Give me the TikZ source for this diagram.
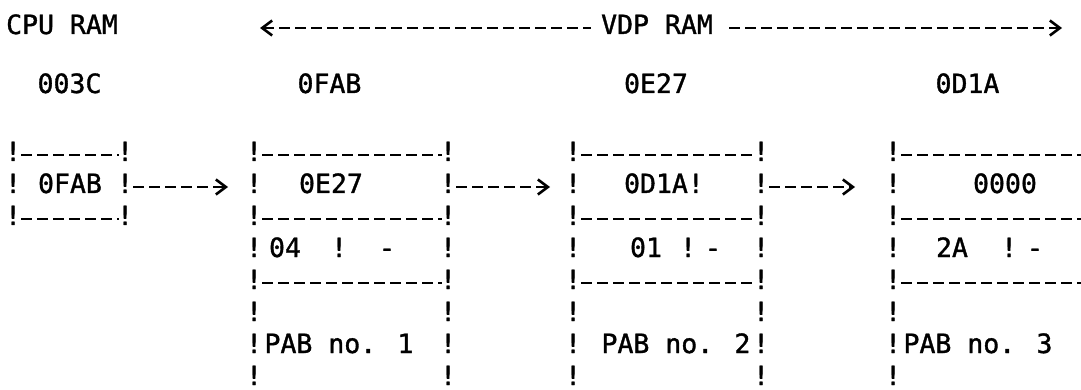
\documentclass[tikz,border=0pt]{standalone}
\usepackage{fontspec}
\newfontfamily\typefont[FakeBold=1.3]{DejaVu Sans Mono}
\usetikzlibrary{arrows.meta}
\tikzset{
  txt/.style={font=\typefont\fontsize{26.5}{26.5}\selectfont, inner sep=0pt, anchor=base},
  dashline/.style={line width=2.8pt, dash pattern=on 11pt off 5pt},
  barb/.tip={Straight Barb[length=10pt,width=15pt,line width=2.6pt]}
}
\begin{document}
\begin{tikzpicture}[x=1pt,y=-1pt]
\useasboundingbox (0,0) rectangle (1081,390);
% header
\node[txt] (cpu) at (62,34) {CPU RAM};
\node[txt] (vdp) at (657,34) {VDP RAM};
\coordinate (vl) at (260,28);
\coordinate (vr) at (1062,28);
\draw[dashline,barb-] (vl) -- ([xshift=-10pt,yshift=6pt]vdp.base west);
\draw[dashline,-barb] ([xshift=16pt,yshift=6pt]vdp.base east) -- (vr);
\node[txt] (h1) at (69.5,93) {003C};
\node[txt] (h2) at (329.5,93) {0FAB};
\node[txt] (h3) at (656,93) {0E27};
\node[txt] (h4) at (967.5,93) {0D1A};
% box 1 (CPU RAM)
\foreach \y [count=\i] in {161,193,225}{
  \node[txt] (b1l\i) at (13,\y) {!};
  \node[txt] (b1r\i) at (125,\y) {!};
}
\foreach \i in {1,3}{
  \draw[dashline] ([xshift=8pt,yshift=6pt]b1l\i.base) -- ([xshift=-6pt,yshift=6pt]b1r\i.base);
}
\node[txt] (p0) at (70,193) {0FAB};
% boxes 2-4 (VDP RAM)
\foreach \b/\xl/\xr in {2/254/448,3/573/761}{
  \foreach \y [count=\i] in {161,193,225,257,289,321,353,385}{
    \node[txt] (b\b l\i) at (\xl,\y) {!};
    \node[txt] (b\b r\i) at (\xr,\y) {!};
  }
  \foreach \i in {1,3,5}{
    \draw[dashline] ([xshift=8pt,yshift=6pt]b\b l\i.base) -- ([xshift=-6pt,yshift=6pt]b\b r\i.base);
  }
}
\foreach \y [count=\i] in {161,193,225,257,289,321,353,385}{
  \node[txt] (b4l\i) at (893,\y) {!};
}
\coordinate (edge1) at (1081,155);
\coordinate (edge3) at (1081,219);
\coordinate (edge5) at (1081,283);
\foreach \i in {1,3,5}{
  \draw[dashline] ([xshift=8pt,yshift=6pt]b4l\i.base) -- (edge\i);
}
% box contents
\node[txt] (p1a) at (331,193) {0E27};
\node[txt] (p1b) at (285,257) {04};
\node[txt] (p1c) at (339,257) {!};
\node[txt] (p1d) at (387,257) {-};
\node[txt] (p1e) at (339,353) {PAB no. 1};
\node[txt] (p2a) at (664,193) {0D1A!};
\node[txt] (p2b) at (646,257) {01};
\node[txt] (p2c) at (688,257) {!};
\node[txt] (p2d) at (713,257) {-};
\node[txt] (p2e) at (676,353) {PAB no. 2};
\node[txt] (p3a) at (1005,193) {0000};
\node[txt] (p3b) at (952,257) {2A};
\node[txt] (p3c) at (1009,257) {!};
\node[txt] (p3d) at (1035,257) {-};
\node[txt] (p3e) at (978,353) {PAB no. 3};
% link arrows
\draw[dashline,-barb] ([xshift=8pt,yshift=6pt]b1r2.base) -- ([xshift=-26pt,yshift=6pt]b2l2.base);
\draw[dashline,-barb] ([xshift=8pt,yshift=6pt]b2r2.base) -- ([xshift=-23pt,yshift=6pt]b3l2.base);
\draw[dashline,-barb] ([xshift=8pt,yshift=6pt]b3r2.base) -- ([xshift=-38pt,yshift=6pt]b4l2.base);
\end{tikzpicture}
\end{document}
